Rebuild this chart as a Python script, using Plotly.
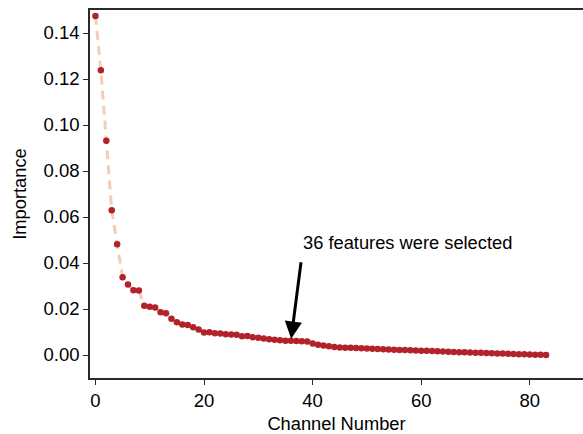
import plotly.graph_objects as go

channels = list(range(84))
importance = [
    0.1474, 0.1238, 0.0932, 0.0629, 0.0481, 0.0338, 0.0306, 0.0282, 0.0280, 0.0214,
    0.0210, 0.0207, 0.0186, 0.0181, 0.0158, 0.0142, 0.0133, 0.0130, 0.0121, 0.0111,
    0.0098, 0.0099, 0.0095, 0.0094, 0.0090, 0.0089, 0.0088, 0.0082, 0.0083, 0.0077,
    0.0075, 0.0072, 0.0069, 0.0066, 0.0064, 0.0062, 0.0062, 0.0061, 0.0060, 0.0059,
    0.0050, 0.0045, 0.0041, 0.0038, 0.0035, 0.0033, 0.0032, 0.0031, 0.0030, 0.0029,
    0.0028, 0.0027, 0.0026, 0.0025, 0.0024, 0.0023, 0.0022, 0.0022, 0.0021, 0.0020,
    0.0019, 0.0018, 0.0017, 0.0016, 0.0015, 0.0014, 0.0013, 0.0012, 0.0012, 0.0011,
    0.0010, 0.0010, 0.0009, 0.0008, 0.0007, 0.0006, 0.0005, 0.0004, 0.0003, 0.0003,
    0.0002, 0.0001, 0.0001, 0.0000,
]
x_ticks = [0, 20, 40, 60, 80]
y_ticks = [0.00, 0.02, 0.04, 0.06, 0.08, 0.10, 0.12, 0.14]
selected = 36
note_text = "36 features were selected"

FONT = "Liberation Sans, Arial, sans-serif"
AX = "#2a2a2a"

fig = go.Figure()
fig.add_trace(go.Scatter(
    x=channels, y=importance, mode="lines",
    line=dict(color="#f5cdb4", width=3, dash="9px,6px"),
    hoverinfo="skip", showlegend=False,
))
fig.add_trace(go.Scatter(
    x=channels, y=importance, mode="markers",
    marker=dict(color="#b2222a", size=6.5, line=dict(width=0)),
    showlegend=False,
))

fig.add_annotation(
    x=selected, y=importance[selected], xref="x", yref="y",
    ax=37.9, ay=0.041, axref="x", ayref="y",
    text="", showarrow=True, arrowhead=2, arrowsize=1.15, arrowwidth=3,
    arrowcolor="black", standoff=2,
)
fig.add_annotation(
    x=37.9, y=0.0487, xref="x", yref="y", text=note_text, showarrow=False,
    xanchor="left", yanchor="middle", font=dict(family=FONT, size=18.3, color="black"),
)

fig.update_layout(
    width=583, height=434,
    margin=dict(l=90, r=0, t=10, b=56),
    paper_bgcolor="white", plot_bgcolor="white",
    font=dict(family=FONT, size=18.5, color="black"),
    xaxis=dict(
        range=[-1.0, 89.8], tickvals=x_ticks, ticktext=[str(v) for v in x_ticks],
        showgrid=False, zeroline=False, showline=True, linecolor=AX, linewidth=1.5,
        mirror=True, ticks="outside", ticklen=5, tickwidth=1.3, tickcolor=AX,
        title=dict(text="Channel Number", font=dict(size=18.3), standoff=9),
    ),
    yaxis=dict(
        range=[-0.01, 0.15], tickvals=y_ticks, ticktext=[f"{v:.2f}" for v in y_ticks],
        showgrid=False, zeroline=False, showline=True, linecolor=AX, linewidth=1.5,
        ticks="outside", ticklen=5, tickwidth=1.3, tickcolor=AX,
        title=dict(text="Importance", font=dict(size=18.3), standoff=12),
    ),
)

fig.write_html("out.html")
